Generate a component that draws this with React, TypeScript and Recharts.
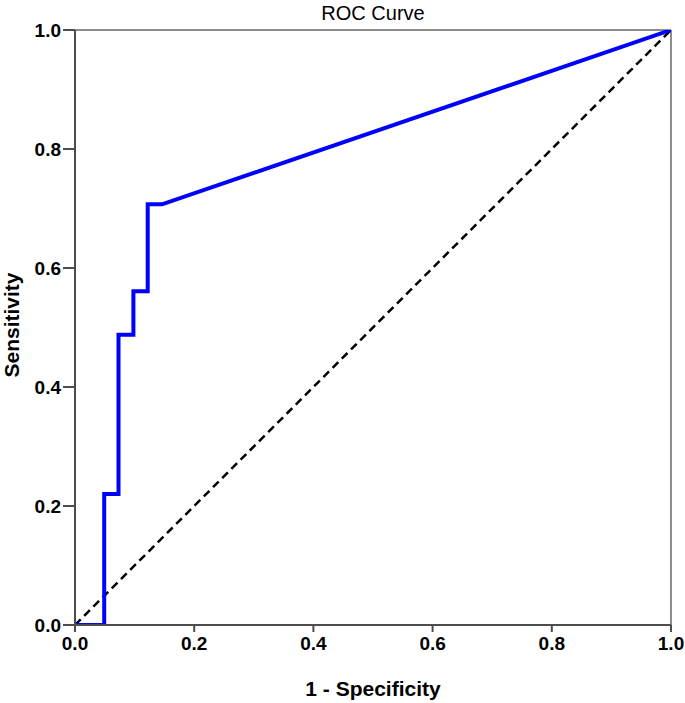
import { LineChart, Line, XAxis, YAxis, ReferenceLine } from "recharts";

// ROC curve points (1 - specificity, sensitivity)
const fpr = [0, 0.049, 0.049, 0.073, 0.073, 0.098, 0.098, 0.122, 0.122, 0.146, 1];
const tpr = [0, 0, 0.22, 0.22, 0.488, 0.488, 0.561, 0.561, 0.707, 0.707, 1];

const refX = [0, 1];
const refY = [0, 1];

const ticks = [0, 0.2, 0.4, 0.6, 0.8, 1.0];

const rocData = fpr.map((x, i) => ({ x, y: tpr[i] }));
const refData = refX.map((x, i) => ({ x, y: refY[i] }));

const font = "'Liberation Sans', Arial, sans-serif";
const tickStyle = { fill: "#000", fontSize: 19, fontWeight: 700, fontFamily: font };
const axisColor = "#4d4d4d";

export default function App() {
  return (
    <div style={{ position: "absolute", left: 0, top: 0, background: "#fff" }}>
      <LineChart
        width={685}
        height={703}
        margin={{ top: 30, right: 14, left: 0, bottom: 0 }}
      >
        <text
          x={373}
          y={20}
          textAnchor="middle"
          style={{ fontSize: 20, fontFamily: font, fill: "#000" }}
        >
          ROC Curve
        </text>
        <text
          transform="translate(19, 325) rotate(-90)"
          textAnchor="middle"
          style={{ fontSize: 21, fontWeight: 700, fontFamily: font, fill: "#000" }}
        >
          Sensitivity
        </text>
        <XAxis
          dataKey="x"
          type="number"
          domain={[0, 1]}
          ticks={ticks}
          tickFormatter={(v: number) => v.toFixed(1)}
          tick={tickStyle}
          tickSize={7}
          tickMargin={5}
          stroke={axisColor}
          strokeWidth={2}
          height={78}
          allowDataOverflow
          label={{
            value: "1 - Specificity",
            position: "insideBottom",
            offset: 7,
            style: { fontSize: 21, fontWeight: 700, fontFamily: font, fill: "#000" },
          }}
        />
        <YAxis
          dataKey="y"
          type="number"
          domain={[0, 1]}
          ticks={ticks}
          tickFormatter={(v: number) => v.toFixed(1)}
          tick={tickStyle}
          tickSize={12}
          tickMargin={2}
          stroke={axisColor}
          strokeWidth={2}
          width={75}
          allowDataOverflow
        />
        <ReferenceLine y={1} stroke="#8c8c8c" strokeWidth={2} />
        <ReferenceLine x={1} stroke="#8c8c8c" strokeWidth={2} />
        <Line
          data={refData}
          dataKey="y"
          type="linear"
          stroke="#000"
          strokeWidth={2.5}
          strokeDasharray="8 5"
          dot={false}
          isAnimationActive={false}
        />
        <Line
          data={rocData}
          dataKey="y"
          type="linear"
          stroke="#0000ff"
          strokeWidth={4}
          dot={false}
          isAnimationActive={false}
        />
      </LineChart>
    </div>
  );
}
